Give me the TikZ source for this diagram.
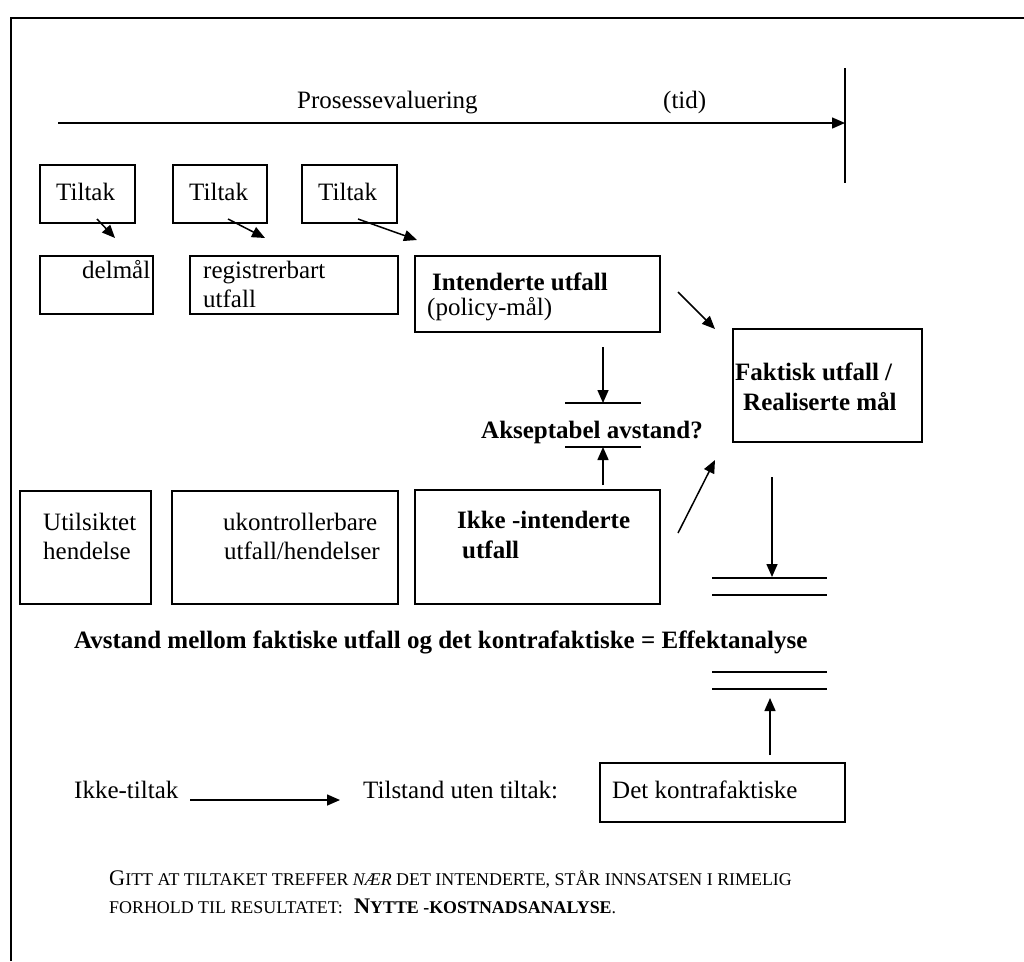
\documentclass[tikz,border=0pt]{standalone}
\usepackage{fontspec}
\setmainfont{Liberation Serif}
\usetikzlibrary{arrows.meta}
\newcommand\scsmall[1]{{\fontsize{17.9}{20}\selectfont #1}}
\begin{document}
\begin{tikzpicture}[x=1pt,y=-1pt,
  box/.style={draw, line width=1.8pt, anchor=north west, inner sep=0pt, outer sep=0pt},
  txt/.style={anchor=base west, inner sep=0pt, font=\fontsize{25}{30}\selectfont},
  btxt/.style={txt, font=\fontsize{25}{30}\selectfont\bfseries},
  small/.style={anchor=base west, inner sep=0pt, font=\fontsize{22.3}{26}\selectfont},
  arr/.style={-{Triangle[length=13pt,width=11pt]}, line width=1.5pt},
  bar/.style={line width=2pt},
]
\useasboundingbox (0,0) rectangle (1024,961);
% frame
\draw[line width=2.4pt] (11,961) -- (11,18) -- (1024,18);

% time line
\coordinate (tl0) at (58,123);
\coordinate (tl1) at (845,123);
\coordinate (vt) at (845,68);
\coordinate (vb) at (845,183);
\draw[line width=1.5pt] (vt) -- (vb);
\draw[arr] (tl0) -- (tl1);
\node[txt] (pe) at (297,108) {Prosessevaluering};
\node[txt] (tid) at (663,108) {(tid)};

% Tiltak boxes
\node[box, minimum width=95pt, minimum height=58pt] (t1) at (40,165) {};
\node[box, minimum width=94pt, minimum height=58pt] (t2) at (173,165) {};
\node[box, minimum width=95pt, minimum height=58pt] (t3) at (302,165) {};
\node[txt] (t1t) at (56,200) {Tiltak};
\node[txt] (t2t) at (189,200) {Tiltak};
\node[txt] (t3t) at (318,200) {Tiltak};

\coordinate (a1s) at (97,219);  \coordinate (a1e) at (115,238);
\coordinate (a2s) at (228,219); \coordinate (a2e) at (265,238);
\coordinate (a3s) at (358,219); \coordinate (a3e) at (417,240);
\draw[arr] (a1s) -- (a1e);
\draw[arr] (a2s) -- (a2e);
\draw[arr] (a3s) -- (a3e);

% second row
\node[box, minimum width=113pt, minimum height=58pt] (dm) at (40,256) {};
\node[txt] (dmt) at (82,278) {delmål};
\node[box, minimum width=208pt, minimum height=58pt] (rg) at (190,256) {};
\node[txt] (rgt1) at (203,278) {registrerbart};
\node[txt] (rgt2) at (203,307) {utfall};
\node[box, minimum width=245pt, minimum height=76pt] (iu) at (415,256) {};
\node[btxt] (iut1) at (432,290) {Intenderte utfall};
\node[txt] (iut2) at (427,315) {(policy-mål)};

% Faktisk
\node[box, minimum width=189pt, minimum height=113pt] (fu) at (733,329) {};
\node[btxt] (fut1) at (735,380) {Faktisk utfall /};
\node[btxt] (fut2) at (743,410) {Realiserte mål};

\coordinate (b1s) at (678,292); \coordinate (b1e) at (715,329);
\draw[arr] (b1s) -- (b1e);

% Akseptabel avstand
\coordinate (ad0) at (603,347); \coordinate (ad1) at (603,403);
\coordinate (au0) at (603,485); \coordinate (au1) at (603,447);
\draw[bar] (565,403) -- (641,403);
\draw[bar] (565,447) -- (641,447);
\draw[arr] (ad0) -- (ad1);
\draw[arr] (au0) -- (au1);
\node[btxt] (aa) at (481,438) {Akseptabel avstand?};

% third row
\node[box, minimum width=131pt, minimum height=113pt] (us) at (20,491) {};
\node[txt] (ust1) at (43,530) {Utilsiktet};
\node[txt] (ust2) at (43,559) {hendelse};
\node[box, minimum width=226pt, minimum height=113pt] (uk) at (172,491) {};
\node[txt] (ukt1) at (223,530) {ukontrollerbare};
\node[txt] (ukt2) at (224,559) {utfall/hendelser};
\node[box, minimum width=245pt, minimum height=114pt] (ik) at (415,490) {};
\node[btxt] (ikt1) at (457,528) {Ikke -intenderte};
\node[btxt] (ikt2) at (462,558) {utfall};

\coordinate (c1s) at (678,533); \coordinate (c1e) at (715,460);
\draw[arr] (c1s) -- (c1e);

% Effekt
\coordinate (fd0) at (772,477); \coordinate (fd1) at (772,577);
\draw[arr] (fd0) -- (fd1);
\draw[bar] (712,578) -- (827,578);
\draw[bar] (712,595) -- (827,595);
\node[btxt] (eff) at (74,648) {Avstand mellom faktiske utfall og det kontrafaktiske = Effektanalyse};
\draw[bar] (712,672) -- (827,672);
\draw[bar] (712,689) -- (827,689);

% kontrafaktisk
\node[box, minimum width=245pt, minimum height=59pt] (dk) at (600,763) {};
\node[txt] (dkt) at (612,798) {Det kontrafaktiske};
\coordinate (ku0) at (770,755); \coordinate (ku1) at (770,698);
\draw[arr] (ku0) -- (ku1);
\node[txt] (ikk) at (74,798) {Ikke-tiltak};
\node[txt] (tst) at (363,798) {Tilstand uten tiltak:};
\coordinate (it0) at (190,800); \coordinate (it1) at (340,800);
\draw[arr] (it0) -- (it1);

% bottom note
\node[small] (n1) at (109,885) {G\scsmall{ITT AT TILTAKET TREFFER \textit{NÆR} DET INTENDERTE, STÅR INNSATSEN I RIMELIG}};
\node[small] (n2) at (109,913) {\scsmall{FORHOLD TIL RESULTATET:}\ \ \textbf{N\scsmall{YTTE -KOSTNADSANALYSE}}\scsmall{.}};
\end{tikzpicture}
\end{document}
